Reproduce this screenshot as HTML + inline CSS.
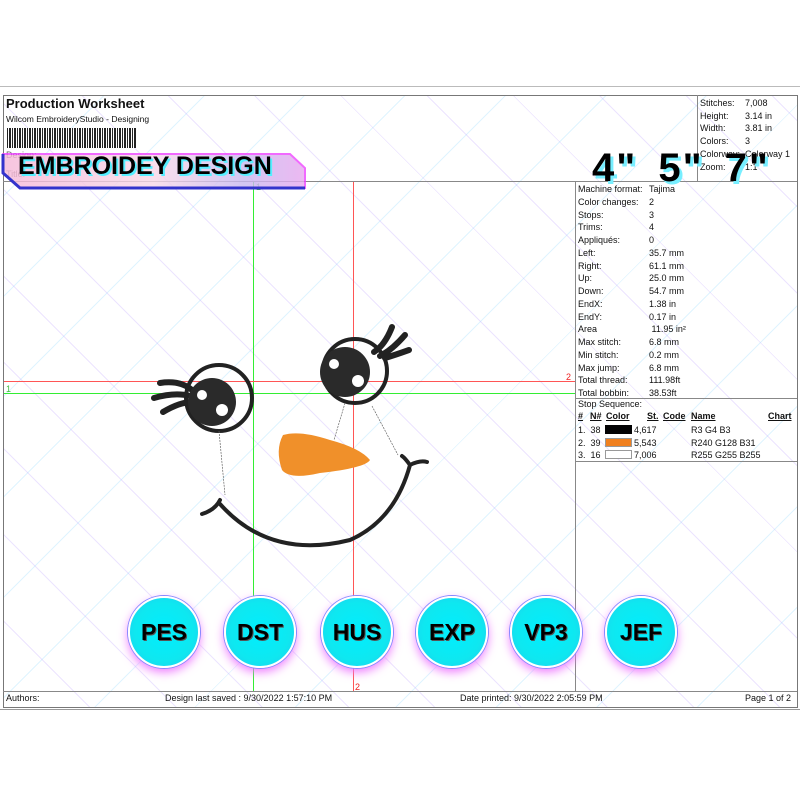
<!DOCTYPE html>
<html><head><meta charset="utf-8"><style>
body{margin:0;width:800px;height:800px;background:#fff;position:relative;overflow:hidden;font-family:"Liberation Sans",sans-serif;}
.a{position:absolute;}
.t{position:absolute;font-size:9px;color:#111;white-space:nowrap;}
.ln{position:absolute;background:#888;}
.btn{position:absolute;width:68px;height:68px;border-radius:50%;background:radial-gradient(circle,#0ef 0%,#0ee8f0 60%,#22c8f0 100%);border:2px solid #fff;box-shadow:0 0 0 1px #88f,0 4px 10px #e7f;text-align:center;line-height:68px;font-weight:bold;font-size:23px;color:#000;text-shadow:1px 1px 0 #555;}
</style></head><body>
<div class="a" style="left:0;top:86px;width:800px;height:1px;background:#bbb"></div>
<div class="a" style="left:3px;top:95px;width:793px;height:611px;border:1px solid #777;overflow:hidden;background-color:#fff;background-image:repeating-linear-gradient(45deg,transparent 0 60px,rgba(180,150,255,.25) 60px 61px),repeating-linear-gradient(-45deg,transparent 0 70px,rgba(150,220,255,.3) 70px 71px);"></div>
<div class="a" style="left:0;top:709px;width:800px;height:1px;background:#999"></div>
<div class="ln" style="left:3px;top:181px;width:794px;height:1px"></div>
<div class="ln" style="left:3px;top:691px;width:794px;height:1px"></div>
<div class="ln" style="left:575px;top:181px;width:1px;height:510px"></div>
<div class="ln" style="left:697px;top:95px;width:1px;height:86px"></div>
<div class="ln" style="left:575px;top:398px;width:222px;height:1px"></div>
<div class="ln" style="left:575px;top:461px;width:222px;height:1px"></div>
<div class="a" style="left:253px;top:182px;width:1px;height:509px;background:#3e3"></div>
<div class="a" style="left:353px;top:182px;width:1px;height:509px;background:#f55"></div>
<div class="a" style="left:4px;top:381px;width:571px;height:1px;background:#f55"></div>
<div class="a" style="left:4px;top:393px;width:571px;height:1px;background:#3e3"></div>
<div class="t" style="left:256px;top:182px;color:#4b4">1</div>
<div class="t" style="left:6px;top:384px;color:#4b4">1</div>
<div class="t" style="left:566px;top:372px;color:#e22">2</div>
<div class="t" style="left:355px;top:682px;color:#e22">2</div>
<div class="t" style="left:6px;top:96px;font-size:13px;font-weight:bold">Production Worksheet</div>
<div class="t" style="left:6px;top:114px;font-size:8.5px">Wilcom EmbroideryStudio - Designing</div>
<div class="a" style="left:7px;top:128px;width:130px;height:20px;background:repeating-linear-gradient(90deg,#222 0 1px,#fff 1px 2px,#222 2px 4px,#fff 4px 5px)"></div>
<div class="t" style="left:6px;top:150px;color:#666">Design:</div>
<div class="t" style="left:6px;top:169px;color:#666">Title:</div>
<svg class="a" style="left:0;top:136px" width="310" height="57"><defs><linearGradient id="g" x1="0" x2="1"><stop offset="0" stop-color="#f6b8d8"/><stop offset=".5" stop-color="#f8d8e8"/><stop offset=".8" stop-color="#c8b8f0"/><stop offset="1" stop-color="#e8a8f0"/></linearGradient></defs><polygon points="3,18 290,18 305,32 305,52 20,52 3,37" fill="url(#g)" opacity=".8" stroke="#e4f" stroke-width="2"/><polyline points="3,18 3,37 20,52 305,52" fill="none" stroke="#33c" stroke-width="3"/></svg>
<div class="t" style="left:18px;top:152px;font-size:25px;font-weight:900;color:#000;text-shadow:2px 2px 0 #5ef;">EMBROIDEY DESIGN</div>
<div class="t" style="left:700px;top:97px;line-height:12.7px">Stitches:<br>Height:<br>Width:<br>Colors:<br>Colorway:<br>Zoom:</div>
<div class="t" style="left:745px;top:97px;line-height:12.7px">7,008<br>3.14 in<br>3.81 in<br>3<br>Colorway 1<br>1:1</div>
<div class="t" style="left:592px;top:146px;font-size:40px;font-weight:900;color:#000;text-shadow:3px 3px 0 #7ef;word-spacing:8px;letter-spacing:2px">4" 5" 7"</div>
<div class="t" style="left:578px;top:183px;line-height:12.75px">Machine format:<br>Color changes:<br>Stops:<br>Trims:<br>Appliqués:<br>Left:<br>Right:<br>Up:<br>Down:<br>EndX:<br>EndY:<br>Area<br>Max stitch:<br>Min stitch:<br>Max jump:<br>Total thread:<br>Total bobbin:</div>
<div class="t" style="left:649px;top:183px;line-height:12.75px">Tajima<br>2<br>3<br>4<br>0<br>35.7 mm<br>61.1 mm<br>25.0 mm<br>54.7 mm<br>1.38 in<br>0.17 in<br>&nbsp;11.95 in²<br>6.8 mm<br>0.2 mm<br>6.8 mm<br>111.98ft<br>38.53ft</div>
<div class="t" style="left:578px;top:399px">Stop Sequence:</div>
<div class="t" style="left:578px;top:411px;font-weight:bold;text-decoration:underline">#</div>
<div class="t" style="left:590px;top:411px;font-weight:bold;text-decoration:underline">N#</div>
<div class="t" style="left:606px;top:411px;font-weight:bold;text-decoration:underline">Color</div>
<div class="t" style="left:647px;top:411px;font-weight:bold;text-decoration:underline">St.</div>
<div class="t" style="left:663px;top:411px;font-weight:bold;text-decoration:underline">Code</div>
<div class="t" style="left:691px;top:411px;font-weight:bold;text-decoration:underline">Name</div>
<div class="t" style="left:768px;top:411px;font-weight:bold;text-decoration:underline">Chart</div>
<div class="t" style="left:578px;top:424px;line-height:12.7px">1.&nbsp; 38<br>2.&nbsp; 39<br>3.&nbsp; 16</div>
<div class="a" style="left:605px;top:425px;width:27px;height:9px;background:#030304"></div>
<div class="a" style="left:605px;top:438px;width:27px;height:9px;background:#f0801f;border:1px solid #999;box-sizing:border-box"></div>
<div class="a" style="left:605px;top:450px;width:27px;height:9px;background:#fff;border:1px solid #999;box-sizing:border-box"></div>
<div class="t" style="left:634px;top:424px;line-height:12.7px">4,617<br>5,543<br>7,006</div>
<div class="t" style="left:691px;top:424px;line-height:12.7px">R3 G4 B3<br>R240 G128 B31<br>R255 G255 B255</div>
<svg class="a" style="left:0;top:0" width="575" height="690">
<g stroke="#222" fill="none" stroke-linecap="round">
<circle cx="219" cy="398" r="33" stroke-width="4"/>
<circle cx="355" cy="371" r="32" stroke-width="4"/>
<path d="M160 383 Q180 380 192 390 M154 398 Q175 392 190 396 M163 412 Q180 402 192 402" stroke-width="6"/>
<path d="M392 327 Q385 345 374 352 M405 335 Q392 350 380 356 M409 350 Q395 355 385 358" stroke-width="6"/>
<path d="M202 514 Q215 510 220 500 M220 504 Q270 560 350 540 Q395 520 410 465 Q420 460 427 462 M410 465 Q405 458 402 456" stroke-width="4"/>
</g>
<circle cx="212" cy="402" r="24" fill="#2a2a2a"/>
<circle cx="345" cy="372" r="25" fill="#2a2a2a"/>
<circle cx="202" cy="395" r="5" fill="#fff"/><circle cx="222" cy="410" r="6" fill="#fff"/>
<circle cx="334" cy="364" r="5" fill="#fff"/><circle cx="358" cy="381" r="6" fill="#fff"/>
<path d="M283 435 Q300 430 330 440 Q360 448 370 460 Q365 468 320 473 Q290 480 282 470 Q275 450 283 435Z" fill="#f0902a"/>
<path d="M219 431 L225 495 M372 406 L398 455 M345 403 L334 440" stroke="#666" stroke-width=".7" stroke-dasharray="2 1" fill="none"/>
</svg>
<div class="btn" style="left:128px;top:596px">PES</div>
<div class="btn" style="left:224px;top:596px">DST</div>
<div class="btn" style="left:321px;top:596px">HUS</div>
<div class="btn" style="left:416px;top:596px">EXP</div>
<div class="btn" style="left:510px;top:596px">VP3</div>
<div class="btn" style="left:605px;top:596px">JEF</div>
<div class="t" style="left:6px;top:693px">Authors:</div>
<div class="t" style="left:165px;top:693px">Design last saved : 9/30/2022 1:57:10 PM</div>
<div class="t" style="left:460px;top:693px">Date printed: 9/30/2022 2:05:59 PM</div>
<div class="t" style="left:745px;top:693px">Page 1 of 2</div>
</body></html>
